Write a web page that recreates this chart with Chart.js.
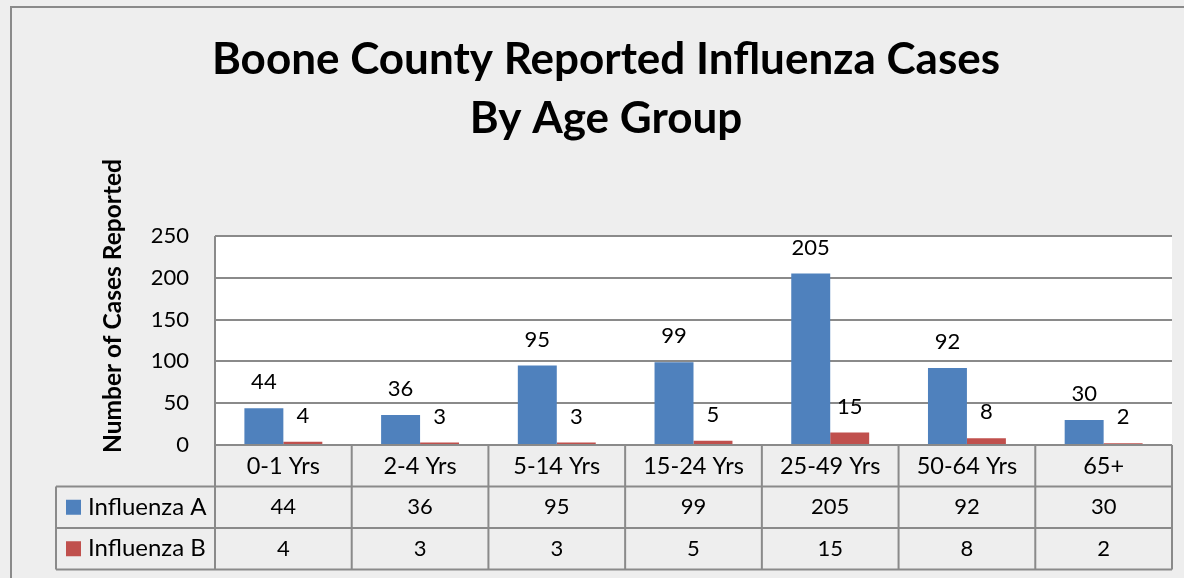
<!DOCTYPE html>
<html lang="en">
<head>
    <meta charset="UTF-8">
    <title>Boone County Reported Influenza Cases</title>
    <style>
        html, body {
            margin: 0;
            padding: 0;
            background: #eeeeee;
        }
        #chart {
            display: block;
        }
    </style>
</head>
<body>
    <canvas id="chart" width="1184" height="578"></canvas>

    <script src="https://cdn.jsdelivr.net/npm/chart.js"></script>
    <script>
        // data
        const ageGroups = ['0-1 Yrs', '2-4 Yrs', '5-14 Yrs', '15-24 Yrs', '25-49 Yrs', '50-64 Yrs', '65+'];
        const influenzaA = [44, 36, 95, 99, 205, 92, 30];
        const influenzaB = [4, 3, 3, 5, 15, 8, 2];
        const seriesNames = ['Influenza A', 'Influenza B'];
        const titleLines = ['Boone County Reported Influenza Cases', 'By Age Group'];
        const yAxisTitle = 'Number of Cases Reported';

        const FONT = 'Lato, Calibri, sans-serif';
        const lineColor = '#8a8a8a';

        // background + white plot area
        const backgroundPlugin = {
            id: 'background',
            beforeDraw(chart) {
                const ctx = chart.ctx;
                const a = chart.chartArea;
                ctx.save();
                ctx.fillStyle = '#eeeeee';
                ctx.fillRect(0, 0, chart.width, chart.height);
                ctx.strokeStyle = lineColor;
                ctx.lineWidth = 2;
                ctx.strokeRect(11, 7, chart.width + 20, chart.height + 20);
                ctx.fillStyle = '#ffffff';
                ctx.fillRect(a.left, a.top, a.right - a.left, a.bottom - a.top);
                ctx.restore();
            }
        };

        // value labels above the bars
        const valueLabels = {
            id: 'valueLabels',
            afterDatasetsDraw(chart) {
                const ctx = chart.ctx;
                ctx.save();
                ctx.font = '22px ' + FONT;
                ctx.fillStyle = '#000';
                ctx.textAlign = 'center';
                ctx.textBaseline = 'middle';
                chart.data.datasets.forEach((ds, i) => {
                    chart.getDatasetMeta(i).data.forEach((bar, j) => {
                        ctx.fillText(String(ds.data[j]), bar.x, bar.y - 26);
                    });
                });
                ctx.restore();
            }
        };

        // y axis title + data table under the plot
        const dataTable = {
            id: 'dataTable',
            afterDraw(chart) {
                const ctx = chart.ctx;
                const a = chart.chartArea;
                const x = chart.scales.x;
                const n = ageGroups.length;
                const colW = (x.right - x.left) / n;
                const rowH = 41.5;
                const legendLeft = 56;
                const top = a.bottom;
                const bottom = top + rowH * 3;

                ctx.save();
                // axis title
                ctx.translate(113, 306);
                ctx.rotate(-Math.PI / 2);
                ctx.font = 'bold 24.5px ' + FONT;
                ctx.fillStyle = '#000';
                ctx.textAlign = 'center';
                ctx.textBaseline = 'middle';
                ctx.fillText(yAxisTitle, 0, 0);
                ctx.restore();

                ctx.save();
                ctx.strokeStyle = lineColor;
                ctx.lineWidth = 2;
                ctx.beginPath();
                // horizontal lines
                ctx.moveTo(x.left, top); ctx.lineTo(x.right, top);
                for (let r = 1; r <= 3; r++) {
                    ctx.moveTo(legendLeft, top + rowH * r);
                    ctx.lineTo(x.right, top + rowH * r);
                }
                // vertical lines
                ctx.moveTo(legendLeft, top + rowH); ctx.lineTo(legendLeft, bottom);
                ctx.moveTo(x.left, a.top); ctx.lineTo(x.left, bottom);
                for (let i = 1; i <= n; i++) {
                    ctx.moveTo(x.left + colW * i, top); ctx.lineTo(x.left + colW * i, bottom);
                }
                ctx.stroke();

                // legend cells + values
                const rows = [influenzaA, influenzaB];
                ctx.textBaseline = 'middle';
                rows.forEach((vals, r) => {
                    const cy = top + rowH * (r + 1.5);
                    const ds = chart.data.datasets[r];
                    ctx.fillStyle = ds.backgroundColor;
                    ctx.fillRect(66, cy - 7.5, 15, 15);
                    ctx.fillStyle = '#000';
                    ctx.font = '24px ' + FONT;
                    ctx.textAlign = 'left';
                    ctx.fillText(seriesNames[r], 88, cy);
                    ctx.font = '22px ' + FONT;
                    ctx.textAlign = 'center';
                    vals.forEach((v, i) => {
                        ctx.fillText(String(v), x.getPixelForTick(i), cy);
                    });
                });
                ctx.restore();
            }
        };

        new Chart(document.getElementById('chart'), {
            type: 'bar',
            data: {
                labels: ageGroups,
                datasets: [
                    {
                        label: seriesNames[0],
                        data: influenzaA,
                        backgroundColor: '#4f81bd',
                        categoryPercentage: 0.57,
                        barPercentage: 1
                    },
                    {
                        label: seriesNames[1],
                        data: influenzaB,
                        backgroundColor: '#c0504d',
                        categoryPercentage: 0.57,
                        barPercentage: 1
                    }
                ]
            },
            options: {
                responsive: false,
                animation: false,
                layout: {
                    padding: { left: 40, right: 12, top: 0, bottom: 0 }
                },
                plugins: {
                    legend: { display: false },
                    tooltip: { enabled: false },
                    title: {
                        display: true,
                        text: titleLines,
                        color: '#000',
                        font: { family: FONT, size: 44, weight: 'bold', lineHeight: 1.34 },
                        padding: { top: 30, bottom: 88 }
                    }
                },
                scales: {
                    x: {
                        grid: { display: false, drawTicks: false },
                        border: { display: false },
                        ticks: {
                            color: '#000',
                            padding: 7,
                            font: { family: FONT, size: 23.5 }
                        },
                        afterFit(scale) { scale.height = 133; }
                    },
                    y: {
                        min: 0,
                        max: 250,
                        grid: { color: lineColor, lineWidth: 2, drawTicks: false },
                        border: { display: false },
                        ticks: {
                            stepSize: 50,
                            color: '#000',
                            padding: 26,
                            font: { family: FONT, size: 22 }
                        },
                        afterFit(scale) { scale.width = 175; }
                    }
                }
            },
            plugins: [backgroundPlugin, valueLabels, dataTable]
        });
    </script>
</body>
</html>
